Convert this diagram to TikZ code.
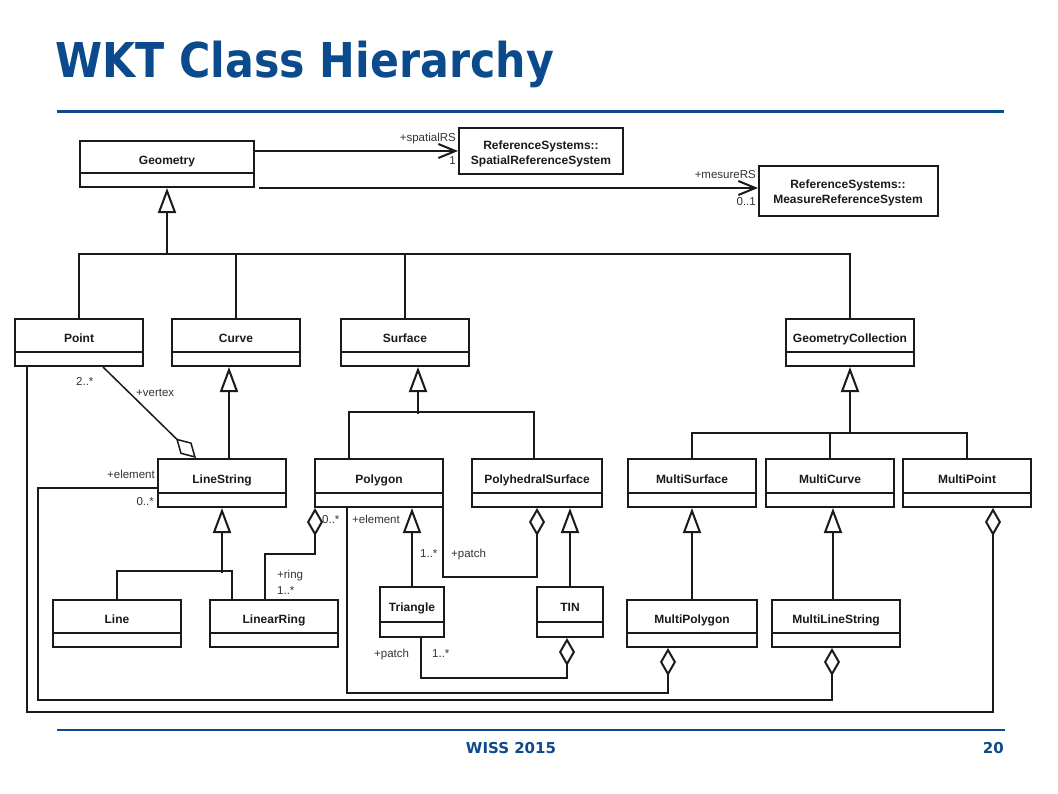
\documentclass[tikz,border=0pt]{standalone}
\usepackage{fontspec}
\setmainfont{Liberation Sans}
\newfontfamily\titlefont[FakeStretch=0.89]{DejaVu Sans}
\newfontfamily\footfont{DejaVu Sans}
\usetikzlibrary{arrows.meta,calc,fit}
\definecolor{slideblue}{HTML}{0B4A8C}
\definecolor{ink}{HTML}{1A1A1A}
\definecolor{lblink}{HTML}{333333}
\tikzset{
  ln/.style={line width=2pt, draw=ink},
  box/.style={draw=ink, line width=2pt, inner sep=0pt},
  cname/.style={font=\bfseries\fontsize{12}{15}\selectfont, text=ink, inner sep=0pt},
  lbl/.style={font=\fontsize{11.5}{13}\selectfont, text=lblink, inner sep=0pt, text height=8pt, text depth=0pt},
  inh/.style={ln, {Triangle[open, length=25pt, width=18pt]}-},
  agg/.style={ln, {Diamond[open, length=28pt, width=16pt]}-},
  assoc/.style={ln, -{Straight Barb[length=17pt, width=14pt]}},
}
\newcommand\umlcls[7]{%
  \node[box, fit={(#2,#3) (#4,#5)}] (#1) {};
  \draw[ln] (#2,#6) -- (#4,#6);
  \node[cname, anchor=base] (#1-t) at ({(#2+#4)/2},{(#3+#6)/2+7}) {#7};
}
\begin{document}
\begin{tikzpicture}[x=1pt,y=-1pt]
\useasboundingbox[fill=white] (0,0) rectangle (1058,793);

% title and footer
\node[anchor=base west, inner sep=0pt, font=\titlefont\bfseries\fontsize{48}{50}\selectfont, text=slideblue] (title) at (55,77) {WKT Class Hierarchy};
\draw[slideblue, line width=3pt] (57,111) -- (1004,111);
\draw[slideblue, line width=2.5pt] (57,730) -- (1005,730);
\node[anchor=base, inner sep=0pt, font=\footfont\bfseries\fontsize{15}{17}\selectfont, text=slideblue] (foot) at (511,753) {WISS 2015};
\node[anchor=base east, inner sep=0pt, font=\footfont\bfseries\fontsize{15}{17}\selectfont, text=slideblue] (page) at (1004,753) {20};

% classes
\umlcls{geom}{80}{141}{254}{187}{173}{Geometry}
\umlcls{point}{15}{319}{143}{366}{352}{Point}
\umlcls{curve}{172}{319}{300}{366}{352}{Curve}
\umlcls{surface}{341}{319}{469}{366}{352}{Surface}
\umlcls{gc}{786}{319}{914}{366}{352}{GeometryCollection}
\umlcls{linestring}{158}{459}{286}{507}{493}{LineString}
\umlcls{polygon}{315}{459}{443}{507}{493}{Polygon}
\umlcls{polyhedral}{472}{459}{602}{507}{493}{PolyhedralSurface}
\umlcls{multisurface}{628}{459}{756}{507}{493}{MultiSurface}
\umlcls{multicurve}{766}{459}{894}{507}{493}{MultiCurve}
\umlcls{multipoint}{903}{459}{1031}{507}{493}{MultiPoint}
\umlcls{line}{53}{600}{181}{647}{633}{Line}
\umlcls{linearring}{210}{600}{338}{647}{633}{LinearRing}
\umlcls{triangle}{380}{587}{444}{637}{622}{Triangle}
\umlcls{tin}{537}{587}{603}{637}{622}{TIN}
\umlcls{multipolygon}{627}{600}{757}{647}{633}{MultiPolygon}
\umlcls{multilinestring}{772}{600}{900}{647}{633}{MultiLineString}

\node[box, fit={(459,128) (623,174)}] (srs) {};
\node[cname, align=center] (srs-t) at (541,154) {ReferenceSystems::\\SpatialReferenceSystem};
\node[box, fit={(759,166) (938,216)}] (mrs) {};
\node[cname, align=center] (mrs-t) at (848,193) {ReferenceSystems::\\MeasureReferenceSystem};

% associations
\draw[assoc] (srs.west -| geom.east) -- (srs.west);
\draw[assoc] ($(geom.south east)+(4,0)$) -- (geom.south east -| mrs.west);
\node[lbl, anchor=east] (l1) at (456,137) {+spatialRS};
\node[lbl, anchor=east] (l2) at (456,160) {1};
\node[lbl, anchor=east] (l3) at (756,174) {+mesureRS};
\node[lbl, anchor=east] (l4) at (756,201) {0..1};

% generalisation: Geometry
\coordinate (busA) at ($(geom.south)+(0,66)$);
\draw[inh] (geom.south) -- (busA);
\draw[ln] (point.north) |- (gc.north |- busA) -- (gc.north);
\draw[ln] (curve.north) -- (curve.north |- busA);
\draw[ln] (surface.north) -- (surface.north |- busA);

% Curve -> LineString
\draw[inh] ($(curve.south west)+(58,0)$) -- ($(linestring.north west)+(72,0)$);

% Surface -> Polygon, PolyhedralSurface
\coordinate (busB) at ($(surface.south)+(13,47)$);
\draw[inh] ($(surface.south)+(13,0)$) -- (busB);
\draw[ln] ($(polygon.north west)+(35,0)$) |- ($(polyhedral.north west)+(63,-46)$) -- ($(polyhedral.north west)+(63,0)$);

% GeometryCollection -> Multi*
\coordinate (busC) at ($(gc.south)+(0,66)$);
\draw[inh] (gc.south) -- (busC);
\draw[ln] (multisurface.north) |- (multipoint.north |- busC) -- (multipoint.north);
\draw[ln] (multicurve.north) -- (multicurve.north |- busC);

% LineString -> Line, LinearRing
\coordinate (busD) at ($(linestring.south)+(0,65)$);
\draw[inh] (linestring.south) -- (busD);
\draw[ln] (line.north) |- ($(linearring.north west)+(23,-28)$) -- ($(linearring.north west)+(23,0)$);

% other generalisations
\draw[inh] (triangle.north |- polygon.south) -- (triangle.north);
\draw[inh] (tin.north |- polyhedral.south) -- (tin.north);
\draw[inh] (multipolygon.north |- multisurface.south) -- (multipolygon.north);
\draw[inh] ($(multicurve.south west)+(68,0)$) -- ($(multilinestring.north west)+(62,0)$);

% aggregations
\draw[agg, line width=1.5pt] ($(linestring.north west)+(39,0)$) -- ($(point.south west)+(89,0)$);
\node[lbl, anchor=west] (l5) at (76,381) {2..*};
\node[lbl, anchor=west] (l6) at (136,392) {+vertex};

\draw[agg] ($(multilinestring.south west)+(61,0)$) -- ++(0,52) -| ($(linestring.south west)+(-119,-20)$) -- ($(linestring.south west)+(0,-20)$);
\node[lbl, anchor=east] (l7) at (155,474) {+element};
\node[lbl, anchor=east] (l8) at (154,501) {0..*};

\draw[agg] ($(multipoint.south west)+(91,0)$) -- ++(0,204) -| ($(point.south west)+(13,0)$);

\draw[agg] ($(multipolygon.south west)+(42,0)$) -- ++(0,45) -| ($(polygon.south west)+(33,0)$);
\node[lbl, anchor=west] (l9) at (352,519) {+element};

\draw[agg] ($(polygon.south west)+(1,0)$) -- ++(0,46) -| ($(linearring.north west)+(56,0)$);
\node[lbl, anchor=west] (l10) at (322,519) {0..*};
\node[lbl, anchor=west] (l11) at (277,574) {+ring};
\node[lbl, anchor=west] (l12) at (277,590) {1..*};

\draw[agg] ($(polyhedral.south west)+(66,0)$) -- ++(0,69) -| ($(polygon.south east)+(-1,0)$);
\node[lbl, anchor=west] (l13) at (420,553) {1..*};
\node[lbl, anchor=west] (l14) at (451,553) {+patch};

\draw[agg] ($(tin.south west)+(31,0)$) -- ++(0,40) -| ($(triangle.south west)+(42,0)$);
\node[lbl, anchor=west] (l15) at (374,653) {+patch};
\node[lbl, anchor=west] (l16) at (432,653) {1..*};
\end{tikzpicture}
\end{document}
